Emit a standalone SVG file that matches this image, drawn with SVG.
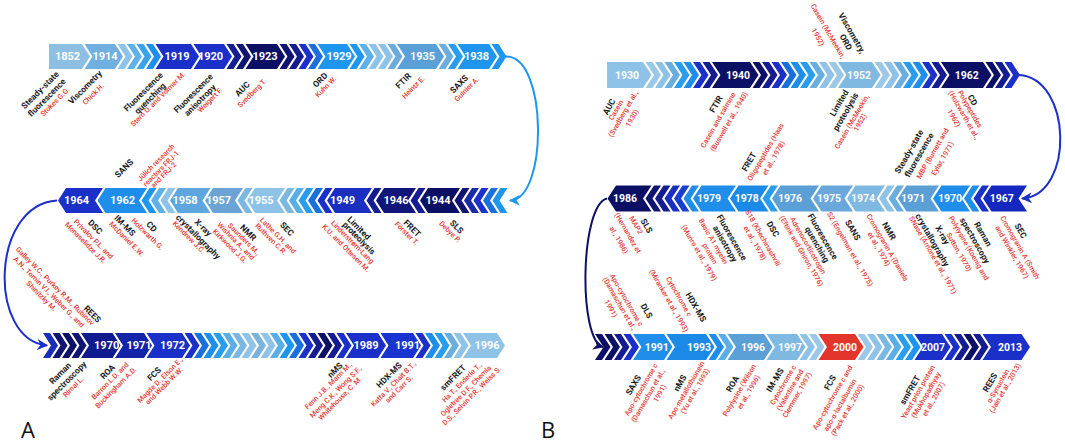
<svg xmlns="http://www.w3.org/2000/svg" width="1065" height="442" viewBox="0 0 1065 442">
<style>
.y{font:700 11px Roboto,"Liberation Sans",sans-serif;fill:#fff;text-anchor:middle;dominant-baseline:central}
.yb{font-size:10.5px}
.k{font:700 8.5px Roboto,"Liberation Sans",sans-serif;fill:#1a1a1a;text-anchor:middle;dominant-baseline:central}
.r{font:500 7.2px Roboto,"Liberation Sans",sans-serif;fill:#e53935;text-anchor:middle;dominant-baseline:central}
.pl{font:400 22px "Open Sans","Liberation Sans",sans-serif;fill:#111}
.arc{fill:none;stroke-width:2}
</style>
<defs>
<path id="ar" d="M0,0h7l8,12.5l-8,12.5h-7l8,-12.5z"/>
<path id="al" d="M8,0h7l-8,12.5l8,12.5h-7l-8,-12.5z"/>
<path id="br" d="M0,0h7l8.5,13l-8.5,13h-7l8.5,-13z"/>
<path id="bl" d="M8.5,0h7l-8.5,13l8.5,13h-7l-8.5,-13z"/>
<marker id="m1" viewBox="0 0 10 10" refX="9" refY="5" markerUnits="userSpaceOnUse" markerWidth="11" markerHeight="11" orient="auto"><path d="M0,0L10,5L0,10L3,5z" fill="#1e96ee"/></marker>
<marker id="m2" viewBox="0 0 10 10" refX="9" refY="5" markerUnits="userSpaceOnUse" markerWidth="11" markerHeight="11" orient="auto"><path d="M0,0L10,5L0,10L3,5z" fill="#1a30c8"/></marker>
<marker id="m3" viewBox="0 0 10 10" refX="9" refY="5" markerUnits="userSpaceOnUse" markerWidth="11" markerHeight="11" orient="auto"><path d="M0,0L10,5L0,10L3,5z" fill="#0c1064"/></marker>
</defs>
<rect width="1065" height="442" fill="#fff"/>

<g id="connectors">
<path class="arc" stroke="#1e96ee" d="M506,56.5 C548,56 548,200 510,200.5" marker-end="url(#m1)"/>
<path class="arc" stroke="#1a30c8" d="M57,200.5 C-10,205 -12,340 47,345.5" marker-end="url(#m2)"/>
<path class="arc" stroke="#1a30c8" d="M1019,75 C1072,78 1075,195 1022,198.5" marker-end="url(#m2)"/>
<path class="arc" stroke="#0c1064" d="M607,198.5 C580,205 578,340 603,347" marker-end="url(#m3)"/>
</g>

<!-- ================= PANEL A ================= -->
<g id="a-row1-chevrons">
<use href="#ar" x="117.5" y="44" fill="#8ec2e6"/><use href="#ar" x="127" y="44" fill="#5fb0e6"/><use href="#ar" x="136.5" y="44" fill="#3aa2ea"/><use href="#ar" x="146" y="44" fill="#1e8eea"/>
<use href="#ar" x="226.5" y="44" fill="#141c90"/><use href="#ar" x="236" y="44" fill="#0e1470"/>
<use href="#ar" x="279.5" y="44" fill="#0e1470"/><use href="#ar" x="289" y="44" fill="#141c90"/><use href="#ar" x="298.5" y="44" fill="#1a30c8"/><use href="#ar" x="308" y="44" fill="#1a6fdc"/>
<use href="#ar" x="349.5" y="44" fill="#1e96ee"/><use href="#ar" x="359" y="44" fill="#5fb0e6"/><use href="#ar" x="368.5" y="44" fill="#8ec2e6"/><use href="#ar" x="378" y="44" fill="#8ec2e6"/><use href="#ar" x="387.5" y="44" fill="#6aaadc"/>
<use href="#ar" x="438.5" y="44" fill="#6aaee0"/><use href="#ar" x="448" y="44" fill="#2a9cee"/>
<use href="#ar" x="491.5" y="44" fill="#1e96ee"/>
</g>
<g id="a-1852"><polygon points="49,44 82,44 90,56.5 82,69 49,69" fill="#8dbfe3"/><text class="y" x="67.5" y="56.5">1852</text>
<text class="k" transform="translate(40,90) rotate(-45)">Steady-state</text>
<text class="k" transform="translate(46.7,97.5) rotate(-45)">fluorescence</text>
<text class="r" transform="translate(55,101.7) rotate(-45)">Stokes G.G.</text></g>
<g id="a-1914"><polygon points="84.5,44 115,44 123,56.5 115,69 84.5,69 92.5,56.5" fill="#6fb0e0"/><text class="y" x="105" y="56.5">1914</text>
<text class="k" transform="translate(85,87.3) rotate(-45)">Viscometry</text>
<text class="r" transform="translate(93.3,94) rotate(-45)">Chick H.</text></g>
<g id="a-1919"><polygon points="155.5,44 191,44 199,56.5 191,69 155.5,69 163.5,56.5" fill="#1a30c8"/><text class="y" x="177" y="56.5">1919</text>
<text class="k" transform="translate(143.3,91.7) rotate(-45)">Fluorescence</text>
<text class="k" transform="translate(150,98.3) rotate(-45)">quenching</text>
<text class="r" transform="translate(158,99) rotate(-45)">Stern O. and Volmer M.</text></g>
<g id="a-1920"><polygon points="193.5,44 224,44 232,56.5 224,69 193.5,69 201.5,56.5" fill="#1a30c8"/><text class="y" x="210.5" y="56.5">1920</text>
<text class="k" transform="translate(193.3,93.3) rotate(-45)">Fluorescence</text>
<text class="k" transform="translate(200,100) rotate(-45)">anisotropy</text>
<text class="r" transform="translate(210,100) rotate(-45)">Weigert F.</text></g>
<g id="a-1923"><polygon points="245.5,44 277,44 285,56.5 277,69 245.5,69 253.5,56.5" fill="#0c1064"/><text class="y" x="265" y="56.5">1923</text>
<text class="k" transform="translate(242.3,89) rotate(-45)">AUC</text>
<text class="r" transform="translate(252,93) rotate(-45)">Svedberg T.</text></g>
<g id="a-1929"><polygon points="317.5,44 347,44 355,56.5 347,69 317.5,69 325.5,56.5" fill="#1e96ee"/><text class="y" x="339" y="56.5">1929</text>
<text class="k" transform="translate(320,80) rotate(-45)">ORD</text>
<text class="r" transform="translate(325.7,86.7) rotate(-45)">Kuhn W.</text></g>
<g id="a-1935"><polygon points="397,44 436,44 444,56.5 436,69 397,69 405,56.5" fill="#5a9fd6"/><text class="y" x="422.5" y="56.5">1935</text>
<text class="k" transform="translate(403.3,80.7) rotate(-45)">FTIR</text>
<text class="r" transform="translate(413.3,87.3) rotate(-45)">Heintz E.</text></g>
<g id="a-1938"><polygon points="457.5,44 489,44 497,56.5 489,69 457.5,69 465.5,56.5" fill="#1e96ee"/><text class="y" x="476.5" y="56.5">1938</text>
<text class="k" transform="translate(459,84) rotate(-45)">SAXS</text>
<text class="r" transform="translate(466.7,89) rotate(-45)">Guinier A.</text></g>

<g id="a-row2-chevrons">
<use href="#al" x="141.5" y="188" fill="#1e96ee"/><use href="#al" x="151" y="188" fill="#5fb0e6"/><use href="#al" x="160.5" y="188" fill="#8ec2e6"/>
<use href="#al" x="237.5" y="188" fill="#7ab8e2"/>
<use href="#al" x="279.5" y="188" fill="#7ab8e2"/><use href="#al" x="289" y="188" fill="#5aaee6"/><use href="#al" x="298.5" y="188" fill="#2a9cee"/><use href="#al" x="308" y="188" fill="#1a6fdc"/><use href="#al" x="317.5" y="188" fill="#1a30c8"/>
<use href="#al" x="366.5" y="188" fill="#141c90"/>
<use href="#al" x="410.5" y="188" fill="#141c90"/>
<use href="#al" x="454.5" y="188" fill="#0e1470"/><use href="#al" x="464" y="188" fill="#1a2aa8"/><use href="#al" x="473.5" y="188" fill="#1a30c8"/><use href="#al" x="483" y="188" fill="#1a6fdc"/><use href="#al" x="492.5" y="188" fill="#1e96ee"/>
</g>
<g id="a-1964"><polygon points="66,188 103,188 95,200.5 103,213 66,213 58,200.5" fill="#1a30c8"/><text class="y" x="76.5" y="200.5">1964</text>
<text class="k" transform="translate(95.3,227) rotate(45)">DSC</text>
<text class="r" transform="translate(93.7,239) rotate(45)">Privalov P.L. and</text>
<text class="r" transform="translate(85.7,242.7) rotate(45)">Monaselidze J.R.</text></g>
<g id="a-1962"><polygon points="105.5,188 147,188 139,200.5 147,213 105.5,213 97.5,200.5" fill="#1e8eea"/><text class="y" x="122.5" y="200.5">1962</text>
<text class="k" transform="translate(124,168.3) rotate(-45)">SANS</text>
<text class="r" transform="translate(156,162.5) rotate(-45)">Jülich research</text>
<text class="r" transform="translate(161,168.5) rotate(-45)">reactors FRJ-1</text>
<text class="r" transform="translate(163.5,175) rotate(-45)">and FRJ-2</text>
<text class="k" transform="translate(125,225.5) rotate(45)">IM-MS</text>
<text class="r" transform="translate(126.7,239) rotate(45)">McDaniel E.W.</text>
<text class="k" transform="translate(151.7,226.5) rotate(45)">CD</text>
<text class="r" transform="translate(147.5,234) rotate(45)">Holzwarth G.</text></g>
<g id="a-1958"><polygon points="178,188 210.5,188 202.5,200.5 210.5,213 178,213 170,200.5" fill="#5ea6de"/><text class="y" x="185" y="200.5">1958</text>
<text class="k" transform="translate(203.3,227.5) rotate(45)">X-ray</text>
<text class="k" transform="translate(198.3,236.7) rotate(45)">crystallography</text>
<text class="r" transform="translate(189,237.3) rotate(45)">Kendrew J.C.</text></g>
<g id="a-1957"><polygon points="213,188 243,188 235,200.5 243,213 213,213 205,200.5" fill="#6aa3d4"/><text class="y" x="218.5" y="200.5">1957</text>
<text class="k" transform="translate(248.3,232.5) rotate(45)">NMR</text>
<text class="r" transform="translate(244,239) rotate(45)">Saunders M.,</text>
<text class="r" transform="translate(236,241) rotate(45)">Wishnia A., and</text>
<text class="r" transform="translate(230,246) rotate(45)">Kirkwood J.G.</text></g>
<g id="a-1955"><polygon points="255,188 285,188 277,200.5 285,213 255,213 247,200.5" fill="#8ec2e6"/><text class="y" x="261" y="200.5">1955</text>
<text class="k" transform="translate(287,229) rotate(45)">SEC</text>
<text class="r" transform="translate(278,235.5) rotate(45)">Lathe G.H. and</text>
<text class="r" transform="translate(271,239) rotate(45)">Ruthven C.R.</text></g>
<g id="a-1949"><polygon points="335,188 372,188 364,200.5 372,213 335,213 327,200.5" fill="#1a2fc0"/><text class="y" x="342.5" y="200.5">1949</text>
<text class="k" transform="translate(359,228) rotate(45)">Limited</text>
<text class="k" transform="translate(359,238) rotate(45)">proteolysis</text>
<text class="r" transform="translate(352.5,242) rotate(45)">Linderstrøm-Lang</text>
<text class="r" transform="translate(346,248) rotate(45)">K.U. and Ottesen M.</text></g>
<g id="a-1946"><polygon points="384,188 416,188 408,200.5 416,213 384,213 376,200.5" fill="#10167a"/><text class="y" x="396" y="200.5">1946</text>
<text class="k" transform="translate(412.3,228.3) rotate(45)">FRET</text>
<text class="r" transform="translate(406.7,233.3) rotate(45)">Förster T.</text></g>
<g id="a-1944"><polygon points="428,188 460,188 452,200.5 460,213 428,213 420,200.5" fill="#0c1064"/><text class="y" x="438" y="200.5">1944</text>
<text class="k" transform="translate(456.7,226.7) rotate(45)">SLS</text>
<text class="r" transform="translate(450,231.7) rotate(45)">Debye P.</text></g>

<g id="a-row3-chevrons">
<use href="#ar" x="43" y="333" fill="#1a2fb8"/><use href="#ar" x="52.5" y="333" fill="#0e1470"/><use href="#ar" x="62" y="333" fill="#0c1064"/><use href="#ar" x="71.5" y="333" fill="#0e1470"/>
<use href="#ar" x="184.5" y="333" fill="#1a30c8"/><use href="#ar" x="194" y="333" fill="#1a6fdc"/><use href="#ar" x="203.5" y="333" fill="#1e8eea"/><use href="#ar" x="213" y="333" fill="#2a9cee"/><use href="#ar" x="222.5" y="333" fill="#5aaee6"/><use href="#ar" x="232" y="333" fill="#7ab8e2"/><use href="#ar" x="241.5" y="333" fill="#8ec2e6"/><use href="#ar" x="251" y="333" fill="#7ab4dc"/><use href="#ar" x="260.5" y="333" fill="#8ec2e6"/><use href="#ar" x="270" y="333" fill="#5aaee6"/><use href="#ar" x="279.5" y="333" fill="#1e96ee"/><use href="#ar" x="289" y="333" fill="#1a6fdc"/><use href="#ar" x="298.5" y="333" fill="#1a30c8"/><use href="#ar" x="308" y="333" fill="#141c90"/><use href="#ar" x="317.5" y="333" fill="#0c1064"/><use href="#ar" x="327" y="333" fill="#141c90"/><use href="#ar" x="336.5" y="333" fill="#1a30c8"/>
<use href="#ar" x="415.5" y="333" fill="#1a30c8"/><use href="#ar" x="425" y="333" fill="#1e8eea"/><use href="#ar" x="434.5" y="333" fill="#2a9cee"/><use href="#ar" x="444" y="333" fill="#6aaee0"/><use href="#ar" x="453.5" y="333" fill="#8ec2e6"/>
</g>
<g id="a-1970"><polygon points="81,333 112.5,333 120.5,345.5 112.5,358 81,358 89,345.5" fill="#0f1a8c"/><text class="y" x="106.7" y="345.5">1970</text>
<text class="k" transform="translate(92.5,314) rotate(45)">REES</text>
<text class="r" transform="translate(55,286) rotate(45)">Galley W.C., Purkey R.M., Rubinov</text>
<text class="r" transform="translate(49,292) rotate(45)">A.N., Tomin V.I., Weber G., and</text>
<text class="r" transform="translate(41.5,296) rotate(45)">Shinitzky M.</text>
<text class="k" transform="translate(60,373.3) rotate(-45)">Raman</text>
<text class="k" transform="translate(66.7,380.8) rotate(-45)">spectroscopy</text>
<text class="r" transform="translate(73.3,386.7) rotate(-45)">Rimal L.</text></g>
<g id="a-1971"><polygon points="115,333 144,333 152,345.5 144,358 115,358 123,345.5" fill="#1424a8"/><text class="y" x="139" y="345.5">1971</text>
<text class="k" transform="translate(107.5,371.7) rotate(-45)">ROA</text>
<text class="r" transform="translate(110,380.8) rotate(-45)">Barron L.D. and</text>
<text class="r" transform="translate(115.8,387.5) rotate(-45)">Buckingham A.D.</text></g>
<g id="a-1972"><polygon points="146.5,333 182,333 190,345.5 182,358 146.5,358 154.5,345.5" fill="#1a30c8"/><text class="y" x="172.5" y="345.5">1972</text>
<text class="k" transform="translate(154,374) rotate(-45)">FCS</text>
<text class="r" transform="translate(160,380) rotate(-45)">Magde D., Elson E.,</text>
<text class="r" transform="translate(164,385.8) rotate(-45)">and Webb W.W.</text></g>
<g id="a-1989"><polygon points="346,333 378,333 386,345.5 378,358 346,358 354,345.5" fill="#1a30c8"/><text class="y" x="366" y="345.5">1989</text>
<text class="k" transform="translate(335,370) rotate(-45)">nMS</text>
<text class="r" transform="translate(328.3,385.7) rotate(-45)">Fenn J.B., Mann M.,</text>
<text class="r" transform="translate(335.7,391.7) rotate(-45)">Meng C.K., Wong S.F.,</text>
<text class="r" transform="translate(340,398.3) rotate(-45)">Whitehouse, C. M.</text></g>
<g id="a-1991"><polygon points="380.5,333 413,333 421,345.5 413,358 380.5,358 388.5,345.5" fill="#1a34d0"/><text class="y" x="407.5" y="345.5">1991</text>
<text class="k" transform="translate(389,375) rotate(-45)">HDX-MS</text>
<text class="r" transform="translate(393.3,384) rotate(-45)">Katta V., Chait B.T.,</text>
<text class="r" transform="translate(399,389) rotate(-45)">and Carr S.</text></g>
<g id="a-1996"><polygon points="463,333 497,333 505,345.5 497,358 463,358 471,345.5" fill="#8ec2e6"/><text class="y" x="487" y="345.5">1996</text>
<text class="k" transform="translate(453,377.5) rotate(-45)">smFRET</text>
<text class="r" transform="translate(461.7,382.5) rotate(-45)">Ha T., Enderle T.,</text>
<text class="r" transform="translate(465.8,390.8) rotate(-45)">Ogletree D.F., Chemla</text>
<text class="r" transform="translate(471.7,395.8) rotate(-45)">D.S., Selvin P.R., Weiss S.</text></g>
<text class="pl" x="21" y="438">A</text>

<!-- ================= PANEL B ================= -->
<g id="b-row1-chevrons">
<use href="#br" x="645.5" y="62" fill="#9cc8e8"/><use href="#br" x="655" y="62" fill="#8ec2e6"/><use href="#br" x="664.5" y="62" fill="#6aaee0"/><use href="#br" x="674" y="62" fill="#2a9cee"/><use href="#br" x="683.5" y="62" fill="#1e8eea"/><use href="#br" x="693" y="62" fill="#1a30c8"/><use href="#br" x="702.5" y="62" fill="#141c90"/>
<use href="#br" x="752.5" y="62" fill="#0c1064"/><use href="#br" x="762" y="62" fill="#141c90"/><use href="#br" x="771.5" y="62" fill="#1a30c8"/><use href="#br" x="781" y="62" fill="#1a6fdc"/><use href="#br" x="790.5" y="62" fill="#1e8eea"/><use href="#br" x="800" y="62" fill="#2a9cee"/><use href="#br" x="809.5" y="62" fill="#6aaee0"/><use href="#br" x="819" y="62" fill="#8ec2e6"/><use href="#br" x="828.5" y="62" fill="#9cc8e8"/>
<use href="#br" x="874.5" y="62" fill="#9cc8e8"/><use href="#br" x="884" y="62" fill="#8ec2e6"/><use href="#br" x="893.5" y="62" fill="#6aaee0"/><use href="#br" x="903" y="62" fill="#2a9cee"/><use href="#br" x="912.5" y="62" fill="#1e8eea"/><use href="#br" x="922" y="62" fill="#1a30c8"/><use href="#br" x="931.5" y="62" fill="#141c90"/>
<use href="#br" x="985.5" y="62" fill="#0c1064"/><use href="#br" x="995" y="62" fill="#141c90"/><use href="#br" x="1004.5" y="62" fill="#1a30c8"/>
</g>
<g id="b-1930"><polygon points="607,62 643,62 651.5,75 643,88 607,88" fill="#8ec2e6"/><text class="y yb" x="627" y="75">1930</text>
<text class="k" transform="translate(609,106.7) rotate(-60)">AUC</text>
<text class="r" transform="translate(616,110) rotate(-60)">Casein</text>
<text class="r" transform="translate(623,114) rotate(-60)">(Svedberg et al.,</text>
<text class="r" transform="translate(632,118) rotate(-60)">1930)</text></g>
<g id="b-1940"><polygon points="712,62 750,62 758.5,75 750,88 712,88 720.5,75" fill="#0c1064"/><text class="y yb" x="738" y="75">1940</text>
<text class="k" transform="translate(716,104) rotate(-60)">FTIR</text>
<text class="r" transform="translate(718,120) rotate(-60)">Casein and salmine</text>
<text class="r" transform="translate(729,121.7) rotate(-60)">(Buswell et al., 1940)</text></g>
<g id="b-1952"><polygon points="838,62 872,62 880.5,75 872,88 838,88 846.5,75" fill="#7fb8e0"/><text class="y yb" x="859" y="75">1952</text>
<text class="k" transform="translate(852,33) rotate(60)">Viscometry,</text>
<text class="k" transform="translate(846,42) rotate(60)">ORD</text>
<text class="r" transform="translate(828,31) rotate(60)">Casein (McMeekin,</text>
<text class="r" transform="translate(818,37) rotate(60)">1952)</text>
<text class="k" transform="translate(839,103) rotate(-60)">Limited</text>
<text class="k" transform="translate(845.6,111.7) rotate(-60)">proteolysis</text>
<text class="r" transform="translate(851.7,121.7) rotate(-60)">Casein (McMeekin,</text>
<text class="r" transform="translate(860,122.5) rotate(-60)">1952)</text></g>
<g id="b-1962"><polygon points="941,62 983,62 991.5,75 983,88 941,88 949.5,75" fill="#0c1064"/><text class="y yb" x="966.7" y="75">1962</text>
<text class="k" transform="translate(972.5,100) rotate(60)">CD</text>
<text class="r" transform="translate(970,109) rotate(60)">Polypeptides</text>
<text class="r" transform="translate(964,115) rotate(60)">(Holzwarth et al.,</text>
<text class="r" transform="translate(954,118) rotate(60)">1962)</text></g>

<g id="b-row2-chevrons">
<use href="#bl" x="645.5" y="185.5" fill="#0e1470"/><use href="#bl" x="655" y="185.5" fill="#141c90"/><use href="#bl" x="664.5" y="185.5" fill="#1a2fc0"/><use href="#bl" x="674" y="185.5" fill="#1a3fd0"/><use href="#bl" x="683.5" y="185.5" fill="#1e8eea"/>
<use href="#bl" x="762.5" y="185.5" fill="#2a9cee"/>
<use href="#bl" x="879" y="185.5" fill="#8ec2e6"/><use href="#bl" x="888.5" y="185.5" fill="#6aaee0"/>
<use href="#bl" x="964" y="185.5" fill="#1e8eea"/><use href="#bl" x="973.5" y="185.5" fill="#1a30c8"/>
</g>
<g id="b-1986"><polygon points="616,185.5 651.5,185.5 643,198.5 651.5,211.5 616,211.5 607.5,198.5" fill="#0c1064"/><text class="y yb" x="625" y="198.5">1986</text>
<text class="k" transform="translate(646.7,225.8) rotate(60)">SLS</text>
<text class="r" transform="translate(636,225) rotate(60)">MAP2</text>
<text class="r" transform="translate(628,233) rotate(60)">(Hernandez et</text>
<text class="r" transform="translate(619,240) rotate(60)">al., 1986)</text></g>
<g id="b-1979"><polygon points="701.5,185.5 736,185.5 727.5,198.5 736,211.5 701.5,211.5 693,198.5" fill="#1e8eea"/><text class="y yb" x="709" y="198.5">1979</text>
<text class="k" transform="translate(732,237.5) rotate(60)">Fluorescence</text>
<text class="k" transform="translate(725.2,243.7) rotate(60)">anisotropy</text>
<text class="r" transform="translate(713.4,241.3) rotate(60)">Basic A1 myelin</text>
<text class="r" transform="translate(710,253.6) rotate(60)">protein</text>
<text class="r" transform="translate(699.3,252.9) rotate(60)">(Munro et al., 1979)</text></g>
<g id="b-1978"><polygon points="738.5,185.5 768.5,185.5 760,198.5 768.5,211.5 738.5,211.5 730,198.5" fill="#1a8ae6"/><text class="y yb" x="746.7" y="198.5">1978</text>
<text class="k" transform="translate(749,161.7) rotate(-60)">FRET</text>
<text class="r" transform="translate(765.5,152) rotate(-60)">Oligopeptides (Haas</text>
<text class="r" transform="translate(773.5,158) rotate(-60)">et al., 1978)</text>
<text class="k" transform="translate(773,229) rotate(60)">DSC</text>
<text class="r" transform="translate(763,238) rotate(60)">S18 (Khechinashvili</text>
<text class="r" transform="translate(755,243) rotate(60)">et al., 1978)</text></g>
<g id="b-1976"><polygon points="780.5,185.5 819,185.5 810.5,198.5 819,211.5 780.5,211.5 772,198.5" fill="#5a9fd6"/><text class="y yb" x="790" y="198.5">1976</text>
<text class="k" transform="translate(823,236.5) rotate(60)">Fluorescence</text>
<text class="k" transform="translate(817.2,244.5) rotate(60)">quenching</text>
<text class="r" transform="translate(808,245.5) rotate(60)">Adrenocorticotropin</text>
<text class="r" transform="translate(801.5,251) rotate(60)">(Eftink and Ghiron, 1976)</text></g>
<g id="b-1975"><polygon points="821.5,185.5 853,185.5 844.5,198.5 853,211.5 821.5,211.5 813,198.5" fill="#6aa8dc"/><text class="y yb" x="829" y="198.5">1975</text>
<text class="k" transform="translate(853,230) rotate(60)">SANS</text>
<text class="r" transform="translate(850,249) rotate(60)">S2 (Engelman et al., 1975)</text></g>
<g id="b-1974"><polygon points="855.5,185.5 885,185.5 876.5,198.5 885,211.5 855.5,211.5 847,198.5" fill="#7fb8e0"/><text class="y yb" x="863" y="198.5">1974</text>
<text class="k" transform="translate(889,231) rotate(60)">NMR</text>
<text class="r" transform="translate(887.5,247.5) rotate(60)">Cromogranin A (Daniels</text>
<text class="r" transform="translate(879,249) rotate(60)">et al., 1974)</text></g>
<g id="b-1971"><polygon points="906.5,185.5 939,185.5 930.5,198.5 939,211.5 906.5,211.5 898,198.5" fill="#5a9fd6"/><text class="y yb" x="913" y="198.5">1971</text>
<text class="k" transform="translate(909,151.5) rotate(-60)">Steady-state</text>
<text class="k" transform="translate(919,155) rotate(-60)">fluorescence</text>
<text class="r" transform="translate(932.5,153.5) rotate(-60)">MBP (Burnett and</text>
<text class="r" transform="translate(942.5,158.5) rotate(-60)">Eylar, 1971)</text>
<text class="k" transform="translate(942.5,235) rotate(60)">X-ray</text>
<text class="k" transform="translate(932.5,240) rotate(60)">crystallography</text>
<text class="r" transform="translate(933,255) rotate(60)">SNase (Arnone et al., 1971)</text></g>
<g id="b-1970"><polygon points="941.5,185.5 970,185.5 961.5,198.5 970,211.5 941.5,211.5 933,198.5" fill="#1e8eea"/><text class="y yb" x="950" y="198.5">1970</text>
<text class="k" transform="translate(983,234) rotate(60)">Raman</text>
<text class="k" transform="translate(975,240.5) rotate(60)">spectroscopy</text>
<text class="r" transform="translate(969,248) rotate(60)">Polylysine (Koenig and</text>
<text class="r" transform="translate(959,252) rotate(60)">Sutton, 1970)</text></g>
<g id="b-1967"><polygon points="991.5,185.5 1027,185.5 1018.5,198.5 1027,211.5 991.5,211.5 983,198.5" fill="#1428c0"/><text class="y yb" x="1001.7" y="198.5">1967</text>
<text class="k" transform="translate(1020.8,230.8) rotate(60)">SEC</text>
<text class="r" transform="translate(1020,247.5) rotate(60)">Cromogranin A (Smith</text>
<text class="r" transform="translate(1012,252) rotate(60)">and Winkler, 1967)</text></g>

<g id="b-row3-chevrons">
<use href="#br" x="595" y="334" fill="#0c1064"/><use href="#br" x="604.5" y="334" fill="#0c1064"/><use href="#br" x="614" y="334" fill="#141c90"/><use href="#br" x="623.5" y="334" fill="#1a30c8"/>
<use href="#br" x="708.5" y="334" fill="#1e8eea"/><use href="#br" x="718" y="334" fill="#5aaee6"/>
<use href="#br" x="799.5" y="334" fill="#8ec2e6"/><use href="#br" x="809" y="334" fill="#9cc8e8"/>
<use href="#br" x="857.5" y="334" fill="#9cc8e8"/><use href="#br" x="867" y="334" fill="#8ec2e6"/><use href="#br" x="876.5" y="334" fill="#7ab8e2"/><use href="#br" x="886" y="334" fill="#5aaee6"/><use href="#br" x="895.5" y="334" fill="#2a9cee"/><use href="#br" x="905" y="334" fill="#1e96ee"/>
<use href="#br" x="944.5" y="334" fill="#1a30c8"/><use href="#br" x="954" y="334" fill="#141c90"/><use href="#br" x="963.5" y="334" fill="#0c1064"/><use href="#br" x="973" y="334" fill="#141c90"/>
</g>
<g id="b-1991"><polygon points="633,334 664,334 672.5,347 664,360 633,360 641.5,347" fill="#1e8eea"/><text class="y yb" x="656.7" y="347">1991</text>
<text class="k" transform="translate(646.7,310.8) rotate(60)">DLS</text>
<text class="r" transform="translate(626.5,300) rotate(60)">Apo-cytochrome c</text>
<text class="r" transform="translate(619.5,303.5) rotate(60)">(Damaschun et al.,</text>
<text class="r" transform="translate(611,308.5) rotate(60)">1991)</text>
<text class="k" transform="translate(633.3,385) rotate(-60)">SAXS</text>
<text class="r" transform="translate(641.1,389.5) rotate(-60)">Apo-cytochrome c</text>
<text class="r" transform="translate(647.9,395.7) rotate(-60)">(Damaschun et al.,</text>
<text class="r" transform="translate(659.7,393.3) rotate(-60)">1991)</text></g>
<g id="b-1993"><polygon points="666.5,334 706,334 714.5,347 706,360 666.5,360 675,347" fill="#1a8ae6"/><text class="y yb" x="699" y="347">1993</text>
<text class="k" transform="translate(696,307) rotate(60)">HDX-MS</text>
<text class="r" transform="translate(679,296.5) rotate(60)">Cytochrome c</text>
<text class="r" transform="translate(669,300.5) rotate(60)">(Miranker et al., 1993)</text>
<text class="k" transform="translate(680,383) rotate(-60)">nMS</text>
<text class="r" transform="translate(686.3,390.1) rotate(-60)">Apo-metallothionein</text>
<text class="r" transform="translate(695,391) rotate(-60)">(Yu et al., 1993)</text></g>
<g id="b-1996"><polygon points="727.5,334 764,334 772.5,347 764,360 727.5,360 736,347" fill="#5a9fd6"/><text class="y yb" x="753" y="347">1996</text>
<text class="k" transform="translate(732.5,384) rotate(-60)">ROA</text>
<text class="r" transform="translate(739.3,390.2) rotate(-60)">Polylysine (Wilson</text>
<text class="r" transform="translate(748.6,392.1) rotate(-60)">et al., 1996)</text></g>
<g id="b-1997"><polygon points="766.5,334 797,334 805.5,347 797,360 766.5,360 775,347" fill="#7fb8e0"/><text class="y yb" x="790" y="347">1997</text>
<text class="k" transform="translate(775,380) rotate(-60)">IM-MS</text>
<text class="r" transform="translate(783,385) rotate(-60)">Cytochrome c</text>
<text class="r" transform="translate(790,390) rotate(-60)">(Valentine and</text>
<text class="r" transform="translate(797,395) rotate(-60)">Clemmer, 1997)</text></g>
<g id="b-2000"><polygon points="818.5,334 855,334 863.5,347 855,360 818.5,360 827,347" fill="#e2362c"/><text class="y yb" x="845" y="347">2000</text>
<text class="k" transform="translate(830,382.5) rotate(-60)">FCS</text>
<text class="r" transform="translate(832.5,397.5) rotate(-60)">Apo-cytochrome c and</text>
<text class="r" transform="translate(840,405) rotate(-60)">apo-α-lactalbumin</text>
<text class="r" transform="translate(847.5,410) rotate(-60)">(Pack et al., 2000)</text></g>
<g id="b-2007"><polygon points="914.5,334 942,334 950.5,347 942,360 914.5,360 923,347" fill="#1a30c8"/><text class="y yb" x="933" y="347">2007</text>
<text class="k" transform="translate(910,390) rotate(-60)">smFRET</text>
<text class="r" transform="translate(918,392) rotate(-60)">Yeast prion protein</text>
<text class="r" transform="translate(926,395) rotate(-60)">(Mukhopadhyay</text>
<text class="r" transform="translate(933.5,399) rotate(-60)">et al., 2007)</text></g>
<g id="b-2013"><polygon points="982.5,334 1021.5,334 1030,347 1021.5,360 982.5,360 991,347" fill="#1a30c8"/><text class="y yb" x="1010" y="347">2013</text>
<text class="k" transform="translate(990,382.5) rotate(-60)">REES</text>
<text class="r" transform="translate(998,386) rotate(-60)">α-Synuclein</text>
<text class="r" transform="translate(1005,388) rotate(-60)">(Jain et al., 2013)</text></g>
<text class="pl" x="541" y="438">B</text>
</svg>
